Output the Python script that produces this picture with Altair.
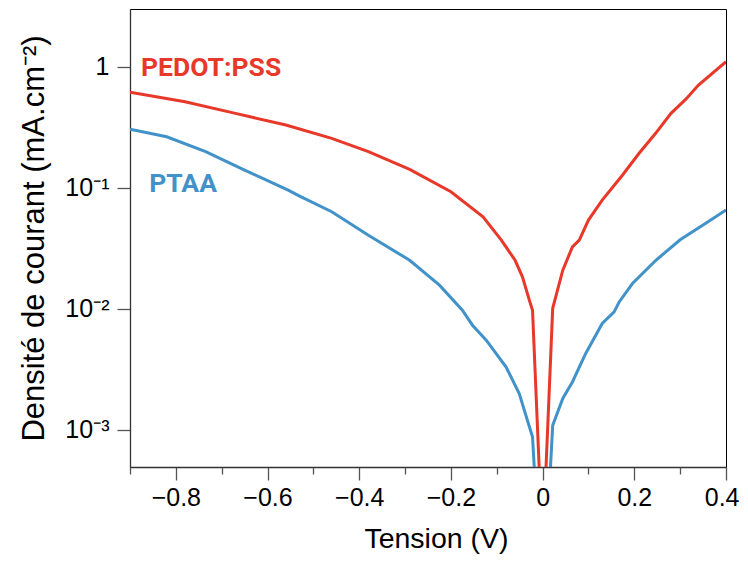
import altair as alt
import pandas as pd

# PEDOT:PSS curve (Tension V, current density mA/cm2)
pedot_v = [-0.90, -0.78, -0.67, -0.56, -0.46, -0.38, -0.29, -0.20, -0.13, -0.09,
           -0.06, -0.044, -0.029, -0.022, 0.0, 0.022, 0.044, 0.065, 0.08, 0.10,
           0.13, 0.174, 0.21, 0.2465, 0.28, 0.312, 0.34, 0.40]
pedot_j = [0.615, 0.514, 0.412, 0.330, 0.256, 0.199, 0.142, 0.0927, 0.0575, 0.0370,
           0.0252, 0.0184, 0.0118, 0.00975, 0.000105, 0.0101, 0.0209, 0.0325, 0.0370, 0.0541,
           0.0791, 0.127, 0.192, 0.282, 0.412, 0.537, 0.706, 1.10]

# PTAA curve
ptaa_v = [-0.90, -0.82, -0.735, -0.65, -0.555, -0.53, -0.46, -0.38, -0.29, -0.225,
          -0.175, -0.153, -0.123, -0.08, -0.051, -0.022, 0.0, 0.022, 0.044, 0.065,
          0.094, 0.13, 0.156, 0.167, 0.196, 0.247, 0.30, 0.355, 0.40]
ptaa_j = [0.305, 0.264, 0.199, 0.140, 0.0957, 0.0853, 0.0634, 0.0406, 0.0252, 0.0157,
          0.00975, 0.00733, 0.00551, 0.00332, 0.00200, 0.000875, 0.00003, 0.00109, 0.00182, 0.00249,
          0.00428, 0.00757, 0.00944, 0.0114, 0.0162, 0.0252, 0.0372, 0.0508, 0.0655]

series_names = ["PEDOT:PSS", "PTAA"]
series_colors = ["#E8382A", "#4192C8"]

label_v = [-0.876, -0.858]
label_j = [0.838, 0.0927]

x_major_ticks = [-0.8, -0.6, -0.4, -0.2, 0, 0.2, 0.4]
x_minor_ticks = [-0.9, -0.7, -0.5, -0.3, -0.1, 0.1, 0.3]
y_ticks = [1, 0.1, 0.01, 0.001]

df = pd.DataFrame({
    "V": pedot_v + ptaa_v,
    "J": pedot_j + ptaa_j,
    "series": [series_names[0]] * len(pedot_v) + [series_names[1]] * len(ptaa_v),
})
lab_df = pd.DataFrame({"V": label_v, "J": label_j, "series": series_names})

xscale = alt.Scale(domain=[-0.9, 0.4], nice=False, zero=False)
yscale = alt.Scale(type="log", domain=[4.94e-4, 3.0], nice=False)
cscale = alt.Scale(domain=series_names, range=series_colors)

x_major = alt.X(
    "V:Q", scale=xscale,
    axis=alt.Axis(values=x_major_ticks, format="~g", tickSize=13, labelPadding=25.5,
                  labelBaseline="alphabetic", labelFontSize=25, labelFlush=True,
                  labelFlushOffset=13, title="Tension (V)",
                  titleX=306, titleY=80, titleBaseline="alphabetic", titleAlign="center",
                  titleFontSize=28.5, grid=False, orient="bottom"),
)
y_axis = alt.Y(
    "J:Q", scale=yscale,
    axis=alt.Axis(values=y_ticks,
                  labelExpr="datum.value > 0.5 ? '1' : datum.value > 0.05 ? '10⁻¹' : datum.value > 0.005 ? '10⁻²' : '10⁻³'",
                  tickSize=13, labelPadding=8, labelFontSize=25,
                  title="Densité de courant (mA.cm⁻²)", titleX=-87, titleY=229,
                  titleAngle=270, titleAlign="center", titleBaseline="alphabetic",
                  titleFontSize=31, grid=False, orient="left"),
)

lines = alt.Chart(df).mark_line(strokeWidth=3, clip=True).encode(
    x=x_major, y=y_axis,
    color=alt.Color("series:N", scale=cscale, legend=None),
)

texts = alt.Chart(lab_df).mark_text(
    font="Roboto", fontWeight="bold", fontSize=26.5, align="left", baseline="alphabetic"
).encode(
    x=alt.X("V:Q", scale=xscale,
            axis=alt.Axis(values=x_minor_ticks, tickSize=7, labels=False, domain=False,
                          title="", grid=False, orient="bottom")),
    y=alt.Y("J:Q", scale=yscale, axis=None),
    color=alt.Color("series:N", scale=cscale, legend=None),
    text="series:N",
)

chart = alt.layer(lines, texts).resolve_axis(x="independent", y="independent").properties(
    width=596, height=458,
    autosize=alt.AutoSizeParams(type="none"),
    padding={"left": 122, "top": 1, "right": 14, "bottom": 87},
).configure_view(stroke="black", strokeWidth=1).configure_axis(
    labelFont="Liberation Sans", titleFont="Liberation Sans",
    labelColor="black", titleColor="black", tickColor="#555",
    domainColor="#333", tickWidth=1.3, domainWidth=1.3, titleFontWeight="normal",
)

chart.save("out.html", embed_options={"renderer": "svg", "actions": False})
